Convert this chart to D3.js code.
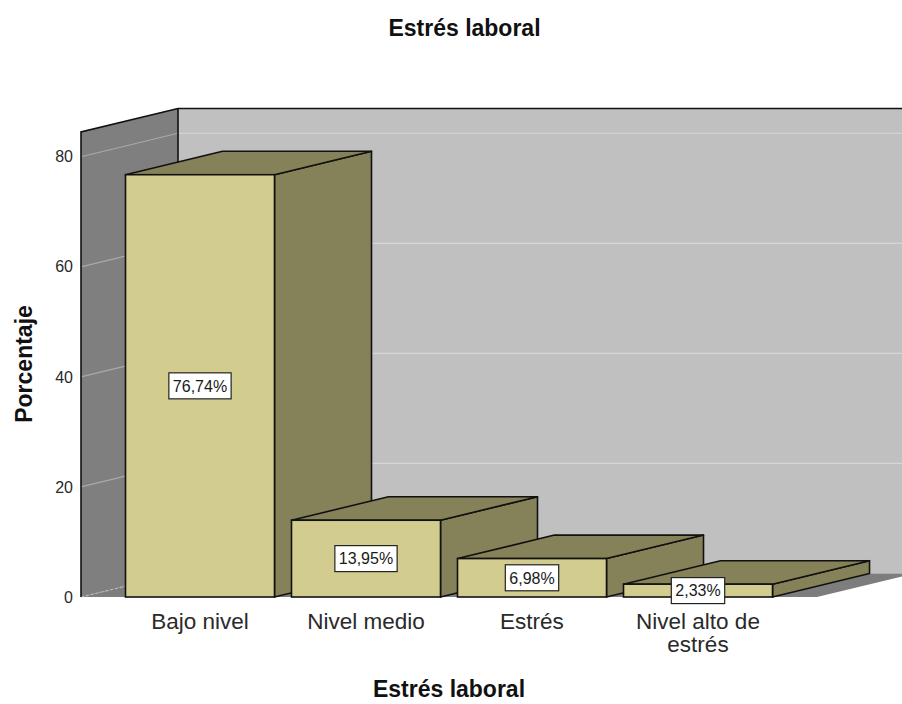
<!DOCTYPE html>
<html>
<head>
<meta charset="utf-8">
<script src="https://cdn.jsdelivr.net/npm/d3@7"></script>
<style>
  html, body { margin: 0; padding: 0; background: #fff; }
  svg { display: block; font-family: "Liberation Sans", Arial, sans-serif; }
</style>
</head>
<body>
<svg id="chart" width="902" height="704"></svg>
<script>
// Estrés laboral – distribution of responses (percent)
const categories = ["Bajo nivel", "Nivel medio", "Estrés", "Nivel alto de estrés"];
const categoryLines = [["Bajo nivel"], ["Nivel medio"], ["Estrés"], ["Nivel alto de", "estrés"]];
const percentages = [76.74, 13.95, 6.98, 2.33];
const valueLabels = ["76,74%", "13,95%", "6,98%", "2,33%"];
const yTicks = [0, 20, 40, 60, 80];
const yMax = 84.5;

const svg = d3.select("#chart");

// front plane of the 3D box and the depth offset of the perspective
const plotLeft = 81, plotRight = 817, plotBottom = 597, plotTop = 132;
const DX = 97, DY = -23.5;

const x = d3.scaleBand()
  .domain(categories)
  .range([plotLeft, plotRight])
  .paddingInner(0.1024)
  .paddingOuter(0.268);

const y = d3.scaleLinear()
  .domain([0, yMax])
  .range([plotBottom, plotTop]);

const pts = a => a.map(p => p.join(",")).join(" ");

// back wall
svg.append("rect")
  .attr("x", plotLeft + DX).attr("y", y(yMax) + DY)
  .attr("width", 902).attr("height", y(0) - y(yMax))
  .attr("fill", "#c0c0c0");

// floor
svg.append("polygon")
  .attr("points", pts([[plotLeft, y(0)], [plotRight, y(0)], [plotRight + DX, y(0) + DY], [plotLeft + DX, y(0) + DY]]))
  .attr("fill", "#7d7d7d");

// left wall
svg.append("polygon")
  .attr("points", pts([[plotLeft, y(0)], [plotLeft, y(yMax)], [plotLeft + DX, y(yMax) + DY], [plotLeft + DX, y(0) + DY]]))
  .attr("fill", "#7f7f7f");

// gridlines on back wall and left wall
const grid = yTicks.filter(t => t > 0);
svg.append("g").selectAll("line.back").data(grid).join("line")
  .attr("x1", plotLeft + DX).attr("x2", 902)
  .attr("y1", d => y(d) + DY).attr("y2", d => y(d) + DY)
  .attr("stroke", "#d6d6d6").attr("stroke-width", 1.2);
svg.append("g").selectAll("line.side").data(grid).join("line")
  .attr("x1", plotLeft).attr("x2", plotLeft + DX)
  .attr("y1", d => y(d)).attr("y2", d => y(d) + DY)
  .attr("stroke", "#a9a9a9").attr("stroke-width", 1.2);

// hidden bottom edge of the left wall
svg.append("line")
  .attr("x1", plotLeft).attr("y1", y(0))
  .attr("x2", plotLeft + DX).attr("y2", y(0) + DY)
  .attr("stroke", "#b8b8b8").attr("stroke-width", 1.2)
  .attr("stroke-dasharray", "3,2");

// box outline edges
const edges = svg.append("g").attr("stroke", "#111").attr("stroke-width", 1.6).attr("fill", "none");
edges.append("polyline")
  .attr("points", pts([[plotLeft, y(0)], [plotLeft, y(yMax)], [plotLeft + DX, y(yMax) + DY], [902, y(yMax) + DY]]));
edges.append("line")
  .attr("x1", plotLeft + DX).attr("y1", y(yMax) + DY)
  .attr("x2", plotLeft + DX).attr("y2", y(0) + DY);

// bars
const frontFill = "#d2cc8f", sideFill = "#858158";
const bars = svg.append("g").selectAll("g").data(categories).join("g");
bars.each(function(c, i) {
  const g = d3.select(this);
  const x0 = x(c), x1 = x(c) + x.bandwidth();
  const yt = y(percentages[i]), yb = y(0);
  // right side face
  g.append("polygon")
    .attr("points", pts([[x1, yb], [x1, yt], [x1 + DX, yt + DY], [x1 + DX, yb + DY]]))
    .attr("fill", sideFill).attr("stroke", "#111").attr("stroke-width", 1.6).attr("stroke-linejoin", "round");
  // top face
  g.append("polygon")
    .attr("points", pts([[x0, yt], [x1, yt], [x1 + DX, yt + DY], [x0 + DX, yt + DY]]))
    .attr("fill", sideFill).attr("stroke", "#111").attr("stroke-width", 1.6).attr("stroke-linejoin", "round");
  // front face
  g.append("rect")
    .attr("x", x0).attr("y", yt).attr("width", x1 - x0).attr("height", yb - yt)
    .attr("fill", frontFill).attr("stroke", "#111").attr("stroke-width", 1.6);
});

// value labels in white boxes
bars.each(function(c, i) {
  const g = d3.select(this);
  const cx = x(c) + x.bandwidth() / 2;
  const cy = (y(percentages[i]) + y(0)) / 2;
  const box = g.append("rect").attr("fill", "#fff").attr("stroke", "#222").attr("stroke-width", 1.2);
  const t = g.append("text")
    .attr("x", cx).attr("y", cy).attr("dy", "0.36em")
    .attr("text-anchor", "middle").attr("font-size", 16).attr("fill", "#1a1a1a")
    .text(valueLabels[i]);
  const w = t.node().getComputedTextLength() + 8;
  box.attr("x", cx - w / 2).attr("y", cy - 13).attr("width", w).attr("height", 26);
});

// y axis tick labels
const yAxis = svg.append("g")
  .attr("transform", `translate(${plotLeft},0)`)
  .call(d3.axisLeft(y).tickValues(yTicks).tickSize(0).tickPadding(8).tickFormat(d3.format("d")));
yAxis.select(".domain").remove();
yAxis.selectAll("text")
  .attr("font-size", 16).attr("fill", "#2a2a2a")
  .attr("font-family", "'Liberation Sans', Arial, sans-serif");

// category labels
const catG = svg.append("g").selectAll("text").data(categories).join("text")
  .attr("text-anchor", "middle").attr("font-size", 22.5).attr("fill", "#2a2a2a")
  .attr("x", d => x(d) + x.bandwidth() / 2).attr("y", 629);
catG.each(function(d, i) {
  d3.select(this).selectAll("tspan").data(categoryLines[i]).join("tspan")
    .attr("x", x(d) + x.bandwidth() / 2)
    .attr("dy", (l, j) => j === 0 ? 0 : 22.5)
    .text(l => l);
});

// titles
svg.append("text")
  .attr("x", 464.5).attr("y", 36).attr("text-anchor", "middle")
  .attr("font-size", 23).attr("font-weight", "bold").attr("fill", "#111")
  .text("Estrés laboral");
svg.append("text")
  .attr("x", (plotLeft + plotRight) / 2).attr("y", 697).attr("text-anchor", "middle")
  .attr("font-size", 23).attr("font-weight", "bold").attr("fill", "#111")
  .text("Estrés laboral");
svg.append("text")
  .attr("transform", "translate(31.5,364) rotate(-90)").attr("text-anchor", "middle")
  .attr("font-size", 23).attr("font-weight", "bold").attr("fill", "#111")
  .text("Porcentaje");
</script>
</body>
</html>
